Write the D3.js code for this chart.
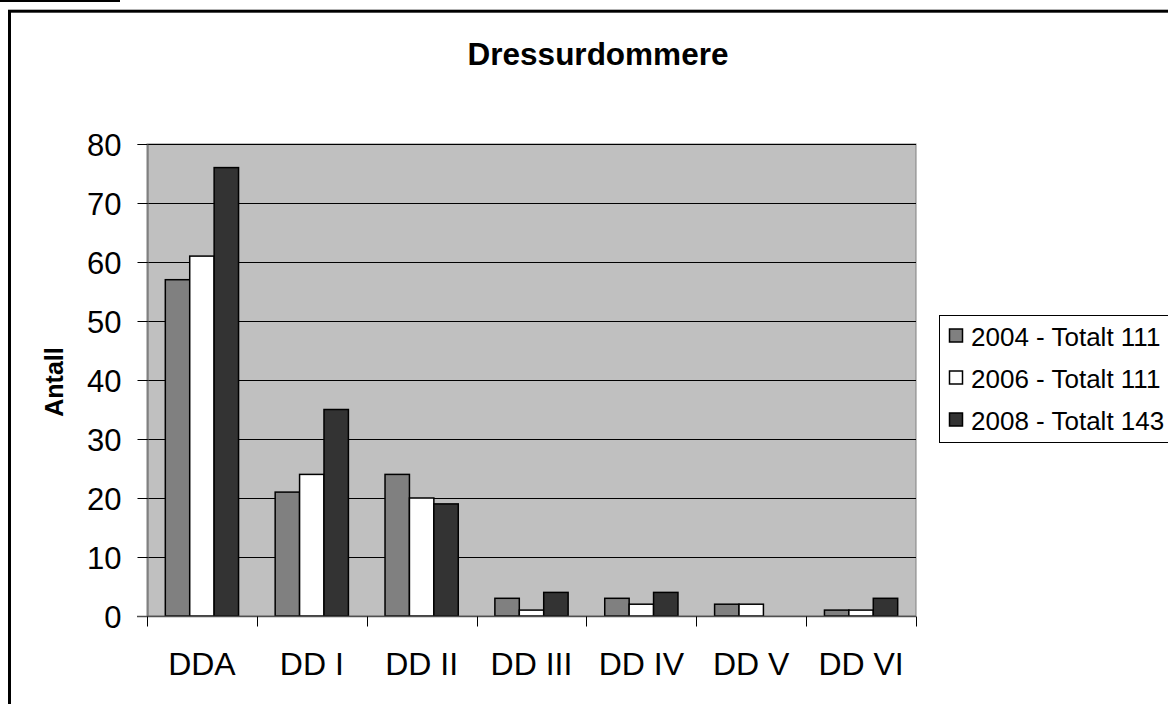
<!DOCTYPE html>
<html>
<head>
<meta charset="utf-8">
<script src="https://cdn.jsdelivr.net/npm/d3@7"></script>
<style>
  body { margin: 0; background: #fff; }
  svg { display: block; font-family: "Liberation Sans", Arial, sans-serif; }
</style>
</head>
<body>
<div id="chart"></div>
<script>
// data
const categories = ["DDA", "DD I", "DD II", "DD III", "DD IV", "DD V", "DD VI"];
const seriesNames = ["2004 - Totalt 111", "2006 - Totalt 111", "2008 - Totalt 143"];
const values2004 = [57, 21, 24, 3, 3, 2, 1];
const values2006 = [61, 24, 20, 1, 2, 2, 1];
const values2008 = [76, 35, 19, 4, 4, 0, 3];
const yTicks = [0, 10, 20, 30, 40, 50, 60, 70, 80];
const seriesColors = ["#808080", "#ffffff", "#333333"];

const allValues = [values2004, values2006, values2008];

const width = 1168, height = 704;
const plot = {left: 147, top: 144, right: 916, bottom: 616};

const svg = d3.select("#chart").append("svg")
    .attr("width", width)
    .attr("height", height);

// short line at the very top and the chart frame
svg.append("line")
    .attr("x1", 0).attr("x2", 120)
    .attr("y1", 1).attr("y2", 1)
    .attr("stroke", "#000").attr("stroke-width", 2);

svg.append("rect")
    .attr("x", 9.5).attr("y", 11.2)
    .attr("width", 1300).attr("height", 800)
    .attr("fill", "none")
    .attr("stroke", "#000").attr("stroke-width", 3);

// scales
const x0 = d3.scaleBand()
    .domain(categories)
    .range([plot.left, plot.right])
    .paddingInner(0).paddingOuter(0);

const x1 = d3.scaleBand()
    .domain(d3.range(seriesNames.length))
    .range([0, x0.bandwidth()])
    .paddingInner(0).paddingOuter(0.75);

const y = d3.scaleLinear()
    .domain([0, 80])
    .range([plot.bottom, plot.top]);

// plot area
svg.append("rect")
    .attr("x", plot.left).attr("y", plot.top)
    .attr("width", plot.right - plot.left)
    .attr("height", plot.bottom - plot.top)
    .attr("fill", "#c0c0c0")
    .attr("stroke", "#808080").attr("stroke-width", 1);

// gridlines
svg.append("g").selectAll("line")
    .data(yTicks.filter(d => d > 0))
    .enter().append("line")
    .attr("x1", plot.left).attr("x2", plot.right)
    .attr("y1", d => Math.round(y(d)) + 0.5)
    .attr("y2", d => Math.round(y(d)) + 0.5)
    .attr("stroke", "#000").attr("stroke-width", 1);

// bars
const groups = svg.append("g").selectAll("g")
    .data(categories)
    .enter().append("g")
    .attr("transform", d => "translate(" + x0(d) + ",0)");

groups.selectAll("rect")
    .data((d, i) => allValues.map((vals, s) => ({s: s, v: vals[i]})).filter(e => e.v > 0))
    .enter().append("rect")
    .attr("x", d => x1(d.s))
    .attr("y", d => y(d.v))
    .attr("width", x1.bandwidth())
    .attr("height", d => y(0) - y(d.v))
    .attr("fill", d => seriesColors[d.s])
    .attr("stroke", "#000").attr("stroke-width", 1.5);

// y axis
const yAxis = d3.axisLeft(y)
    .tickValues(yTicks)
    .tickSize(10)
    .tickPadding(16)
    .tickFormat(d3.format("d"));

const gy = svg.append("g")
    .attr("transform", "translate(" + (plot.left + 0.5) + ",0)")
    .call(yAxis);
gy.select(".domain").attr("stroke", "#606060");
gy.selectAll(".tick line").attr("stroke", "#000");
gy.selectAll(".tick text")
    .attr("font-size", 31)
    .attr("font-family", "Liberation Sans, Arial, sans-serif")
    .attr("fill", "#000")
    .attr("dy", "0.36em");

// x axis
const xAxis = d3.axisBottom(x0)
    .tickSize(0)
    .tickPadding(0);

const gx = svg.append("g")
    .attr("transform", "translate(0," + (plot.bottom + 0.5) + ")")
    .call(xAxis);
gx.select(".domain").remove();
gx.append("line")
    .attr("x1", plot.left - 10).attr("x2", plot.right)
    .attr("y1", 0).attr("y2", 0)
    .attr("stroke", "#505050").attr("stroke-width", 1.5);
gx.selectAll(".tick text")
    .attr("font-size", 32)
    .attr("font-family", "Liberation Sans, Arial, sans-serif")
    .attr("fill", "#000")
    .attr("dy", 0)
    .attr("y", 58);

// category boundary ticks
gx.append("g").selectAll("line")
    .data(categories.map(c => x0(c)).concat([plot.right]))
    .enter().append("line")
    .attr("x1", d => Math.round(d) + 0.5).attr("x2", d => Math.round(d) + 0.5)
    .attr("y1", 0).attr("y2", 10)
    .attr("stroke", "#000");

// title
svg.append("text")
    .attr("x", 598).attr("y", 65)
    .attr("text-anchor", "middle")
    .attr("font-size", 31.5)
    .attr("font-weight", "bold")
    .text("Dressurdommere");

// y axis title
svg.append("text")
    .attr("transform", "translate(63,382) rotate(-90)")
    .attr("text-anchor", "middle")
    .attr("font-size", 25)
    .attr("font-weight", "bold")
    .text("Antall");

// legend
const legend = svg.append("g");
legend.append("rect")
    .attr("x", 939.5).attr("y", 315.5)
    .attr("width", 300).attr("height", 127)
    .attr("fill", "#fff")
    .attr("stroke", "#000").attr("stroke-width", 1);

const items = legend.selectAll("g.item")
    .data(seriesNames)
    .enter().append("g")
    .attr("class", "item")
    .attr("transform", (d, i) => "translate(0," + (336 + i * 42) + ")");

items.append("rect")
    .attr("x", 949.5).attr("y", -7)
    .attr("width", 13).attr("height", 13)
    .attr("fill", (d, i) => seriesColors[i])
    .attr("stroke", "#000").attr("stroke-width", 1.5);

items.append("text")
    .attr("x", 971)
    .attr("y", 9.5)
    .attr("font-size", 26)
    .text(d => d);
</script>
</body>
</html>
